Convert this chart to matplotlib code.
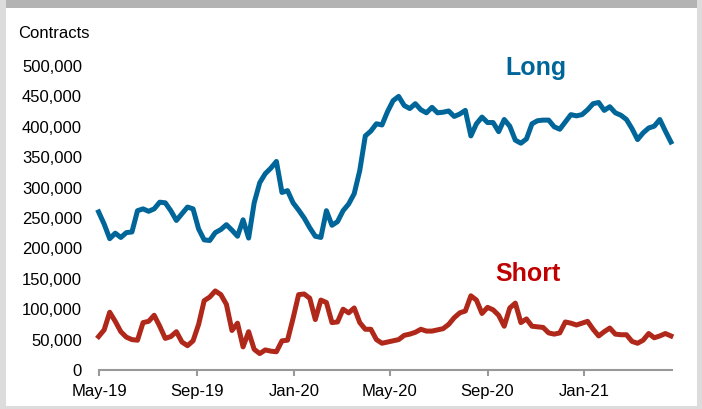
import matplotlib
matplotlib.use("Agg")
import matplotlib.pyplot as plt
import matplotlib.dates as mdates
from matplotlib.patches import Rectangle
import pandas as pd

# ---- data (weekly, contracts in thousands) ----
start_date = "2019-04-30"
long_k = [260, 240, 216, 225, 218, 226, 227, 262, 265, 261,
          265, 276, 275, 262, 246, 257, 268, 265, 232, 214,
          213, 226, 231, 239, 230, 220, 247, 217, 275, 308,
          323, 332, 343, 292, 295, 275, 263, 250, 234, 220,
          218, 262, 238, 244, 262, 273, 290, 328, 385, 393,
          405, 403, 425, 443, 450, 435, 430, 438, 428, 423,
          432, 423, 424, 426, 417, 421, 427, 385, 405, 416,
          407, 407, 392, 412, 401, 378, 373, 380, 405, 410,
          411, 411, 400, 396, 408, 420, 418, 420, 428, 438,
          440, 427, 433, 423, 419, 412, 397, 379, 390, 398,
          401, 412, 393, 375]
short_k = [55, 66, 95, 80, 63, 54, 50, 49, 78, 80,
           90, 72, 52, 55, 63, 46, 40, 48, 75, 114,
           120, 130, 124, 108, 65, 77, 38, 63, 34, 27,
           33, 31, 30, 48, 49, 85, 124, 125, 118, 83,
           115, 111, 78, 79, 100, 94, 102, 78, 67, 67,
           50, 44, 46, 48, 50, 57, 59, 62, 67, 64,
           64, 66, 68, 75, 86, 94, 97, 122, 115, 93,
           103, 99, 90, 72, 102, 110, 78, 84, 72, 71,
           70, 61, 59, 61, 79, 77, 74, 77, 80, 67,
           56, 63, 69, 59, 58, 58, 47, 44, 49, 60,
           53, 56, 60, 56]
series_names = ["Long", "Short"]
tick_dates = ["2019-05-01", "2019-09-01", "2020-01-01", "2020-05-01", "2020-09-01", "2021-01-01"]
tick_labels = ["May-19", "Sep-19", "Jan-20", "May-20", "Sep-20", "Jan-21"]
y_ticks = [0, 50000, 100000, 150000, 200000, 250000, 300000, 350000, 400000, 450000, 500000]
y_tick_labels = ["0", "50,000", "100,000", "150,000", "200,000", "250,000",
                 "300,000", "350,000", "400,000", "450,000", "500,000"]
y_title = "Contracts"

dates = pd.date_range(start_date, periods=len(long_k), freq="7D")
long_v = [v * 1000 for v in long_k]
short_v = [v * 1000 for v in short_k]

plt.rcParams['font.family'] = ['Liberation Sans', 'DejaVu Sans']

W, H = 702, 409
fig = plt.figure(figsize=(W / 100, H / 100), dpi=100)
fig.patch.set_facecolor('#dcdcdc')
# white panel and dark top band
fig.patches.append(Rectangle((6 / W, (H - 406) / H), (697 - 6) / W, (406 - 8) / H,
                             transform=fig.transFigure, facecolor='white', edgecolor='none', zorder=-2))
fig.patches.append(Rectangle((6 / W, (H - 8) / H), (697 - 6) / W, 8 / H,
                             transform=fig.transFigure, facecolor='#b3b3b3', edgecolor='none', zorder=-2))

ax = fig.add_axes([98.6 / W, (H - 370) / H, (671.7 - 98.6) / W, 304 / H])
ax.patch.set_alpha(0)

long_color = '#006699'
short_color = '#b0281a'
ax.plot(dates, long_v, color=long_color, lw=3.6, solid_joinstyle='round', clip_on=False)
ax.plot(dates, short_v, color=short_color, lw=3.6, solid_joinstyle='round', clip_on=False)

ax.set_ylim(0, 500000)
ax.set_xlim(pd.Timestamp("2019-04-30"), pd.Timestamp("2021-04-21"))

ax.set_yticks(y_ticks)
ax.set_yticklabels(y_tick_labels)
ax.set_xticks([pd.Timestamp(d) for d in tick_dates])
ax.set_xticklabels(tick_labels)

for s in ['top', 'right', 'left']:
    ax.spines[s].set_visible(False)
ax.spines['bottom'].set_color('#999999')
ax.spines['bottom'].set_linewidth(1.5)
ax.tick_params(axis='y', length=0, pad=12, labelsize=12, labelcolor='black')
ax.tick_params(axis='x', length=4, width=1.5, color='#999999', pad=6, labelsize=12, labelcolor='black')

fig.text(18 / W, 1 - 33 / H, y_title, fontsize=12, ha='left', va='center')

ax.text(pd.Timestamp("2020-11-01"), 497000, series_names[0], color=long_color, fontsize=18,
        fontweight='bold', ha='center', va='center')
ax.text(pd.Timestamp("2020-10-22"), 158000, series_names[1], color='#c00000', fontsize=18,
        fontweight='bold', ha='center', va='center')

fig.savefig("out.png", dpi=100, facecolor=fig.get_facecolor())
